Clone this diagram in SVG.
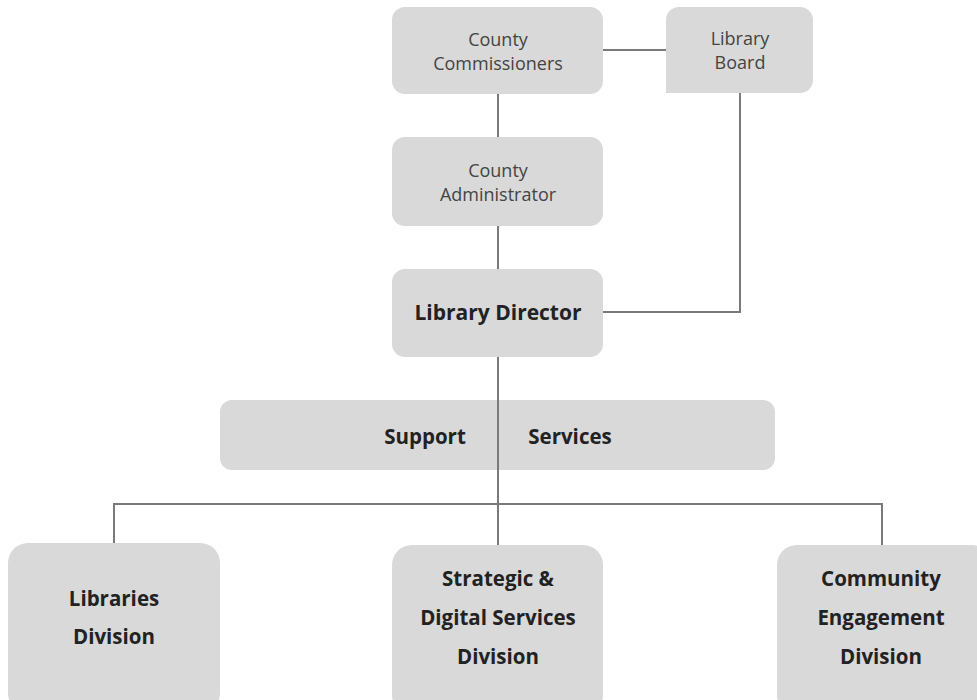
<svg xmlns="http://www.w3.org/2000/svg" width="977" height="700" viewBox="0 0 977 700">
  <style>
    .box { fill: #d9d9d9; }
    .link { fill: none; stroke: #7a7a7a; stroke-width: 2; }
    .t { font-family: "Open Sans", "Noto Sans", sans-serif; text-anchor: middle; }
    .small { font-size: 18px; fill: #444; }
    .big { font-size: 20.5px; font-weight: bold; fill: #222; }
  </style>
  <rect width="977" height="700" fill="#ffffff"/>

  <g id="county-commissioners">
    <rect class="box" x="392" y="7" width="211" height="87" rx="13"/>
    <text class="t small" x="498" y="46">County</text>
    <text class="t small" x="498" y="70">Commissioners</text>
  </g>

  <g id="library-board">
    <path class="box" d="M679,7 H800 A13,13 0 0 1 813,20 V80 A13,13 0 0 1 800,93 H666 V20 A13,13 0 0 1 679,7 Z"/>
    <text class="t small" x="740" y="45">Library</text>
    <text class="t small" x="740" y="69">Board</text>
  </g>

  <g id="county-administrator">
    <rect class="box" x="392" y="137" width="211" height="89" rx="13"/>
    <text class="t small" x="498" y="177">County</text>
    <text class="t small" x="498" y="201">Administrator</text>
  </g>

  <g id="library-director">
    <rect class="box" x="392" y="269" width="211" height="88" rx="13"/>
    <text class="t big" x="498" y="320" style="font-size:21px">Library Director</text>
  </g>

  <g id="support-services">
    <rect class="box" x="220" y="400" width="555" height="70" rx="12"/>
    <text class="t big" x="425" y="444">Support</text>
    <text class="t big" x="570" y="444">Services</text>
  </g>

  <g id="libraries-division">
    <rect class="box" x="8" y="543" width="212" height="170" rx="20"/>
    <text class="t big" x="114" y="606">Libraries</text>
    <text class="t big" x="114" y="644">Division</text>
  </g>

  <g id="strategic-digital-services-division">
    <rect class="box" x="392" y="545" width="211" height="170" rx="20"/>
    <text class="t big" x="498" y="586">Strategic &amp;</text>
    <text class="t big" x="498" y="625">Digital Services</text>
    <text class="t big" x="498" y="664">Division</text>
  </g>

  <g id="community-engagement-division">
    <rect class="box" x="777" y="545" width="215" height="170" rx="20"/>
    <text class="t big" x="881" y="586">Community</text>
    <text class="t big" x="881" y="625">Engagement</text>
    <text class="t big" x="881" y="664">Division</text>
  </g>

  <!-- connectors drawn last so the trunk line shows across the support bar -->
  <g id="connectors">
    <line class="link" x1="603" y1="50" x2="666" y2="50"/>
    <line class="link" x1="498" y1="94" x2="498" y2="137"/>
    <line class="link" x1="498" y1="226" x2="498" y2="269"/>
    <polyline class="link" points="740,93 740,312 603,312"/>
    <line class="link" x1="498" y1="357" x2="498" y2="545"/>
    <polyline class="link" points="114,543 114,504 882,504 882,545"/>
  </g>
</svg>
